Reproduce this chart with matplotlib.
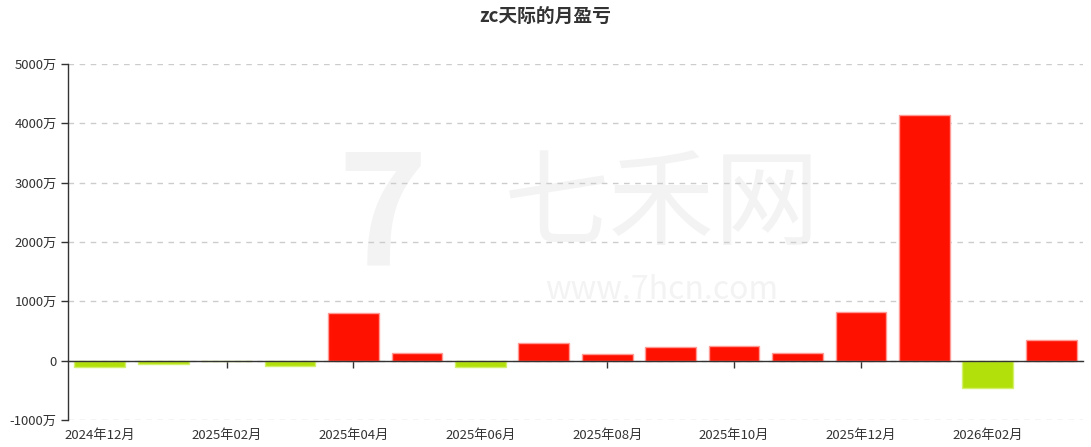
import matplotlib
matplotlib.use("Agg")
import matplotlib.pyplot as plt
from matplotlib.ticker import FuncFormatter, MultipleLocator

plt.rcParams['font.family'] = ['Noto Sans CJK SC', 'DejaVu Sans']

months = ["2024年12月", "2025年01月", "2025年02月", "2025年03月", "2025年04月",
          "2025年05月", "2025年06月", "2025年07月", "2025年08月", "2025年09月",
          "2025年10月", "2025年11月", "2025年12月", "2026年01月", "2026年02月",
          "2026年03月"]
values = [-112, -55, -6, -90, 808, 130, -112, 290, 118, 236, 247, 130, 820, 4136, -460, 342]
title = "zc天际的月盈亏"

RED = "#ff1100"
GREEN = "#b2e00b"
RED_EDGE = "#ff9a94"
GREEN_EDGE = "#d3f06a"
TXT = "#333333"

fig = plt.figure(figsize=(10.91, 4.47), dpi=100)
W, H = 1091, 447
ax = fig.add_axes([68 / W, (H - 420) / H, (1083 - 68) / W, (420 - 64) / H])

x = list(range(len(months)))
colors = [RED if v >= 0 else GREEN for v in values]
edges = [RED_EDGE if v >= 0 else GREEN_EDGE for v in values]
ax.bar(x, values, width=0.8, color=colors, edgecolor=edges, linewidth=1, zorder=2)

ax.set_xlim(-0.5, len(months) - 0.5)
ax.set_ylim(-1000, 5000)
ax.yaxis.set_major_locator(MultipleLocator(1000))
ax.yaxis.set_major_formatter(FuncFormatter(lambda v, p: "0" if v == 0 else f"{int(v)}万"))
ax.yaxis.grid(True, linestyle=(0, (4, 4)), color="#cccccc", linewidth=1)
ax.set_axisbelow(True)

for s in ["top", "right"]:
    ax.spines[s].set_visible(False)
ax.spines["left"].set_color("#333333")
ax.spines["left"].set_linewidth(1)
ax.spines["bottom"].set_position(("data", 0))
ax.spines["bottom"].set_color("#333333")
ax.spines["bottom"].set_linewidth(1)
ax.spines["bottom"].set_zorder(3)

ax.set_xticks(x[::2])
ax.set_xticklabels(months[::2])
ax.tick_params(axis="x", length=5, width=1, color="#333333", pad=44,
               labelsize=9.5, labelcolor=TXT)
ax.tick_params(axis="y", length=5, width=1, color="#333333", pad=3,
               labelsize=9.5, labelcolor=TXT)
# tick marks under negative bars are hidden by the bars in the reference
for tick, xi in zip(ax.xaxis.get_major_ticks(), x[::2]):
    if values[xi] < -50:
        tick.tick1line.set_visible(False)

# watermark
ax.text(0.585, 0.60, "七禾网", transform=ax.transAxes, fontsize=76, color="#f3f3f3",
        ha="center", va="center", zorder=0)
ax.text(0.585, 0.365, "www.7hcn.com", transform=ax.transAxes, fontsize=23, color="#f3f3f3",
        ha="center", va="center", zorder=0)
ax.text(0.31, 0.56, "7", transform=ax.transAxes, fontsize=110, color="#f3f3f3",
        ha="center", va="center", zorder=0, fontweight="bold")

fig.text(0.5, 1 - 17 / H, title, ha="center", va="center", fontsize=13.5,
         fontweight="bold", color=TXT)

fig.savefig("out.png", dpi=100)
